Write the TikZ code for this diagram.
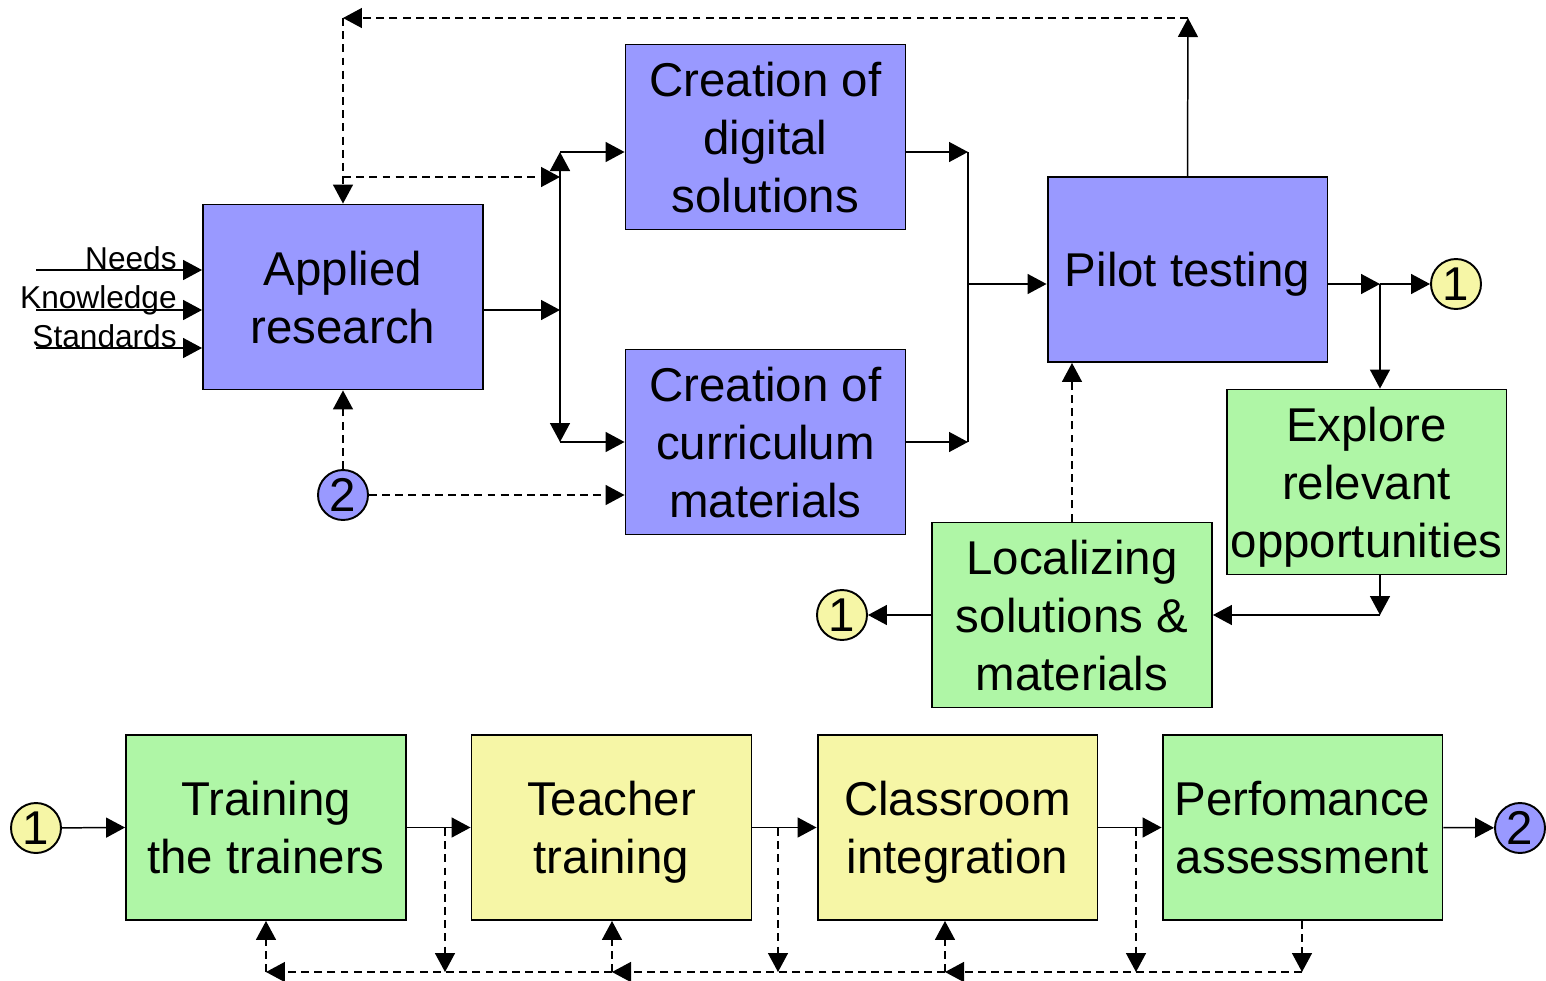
\documentclass[tikz,border=0pt]{standalone}
\usepackage{fontspec}
\setmainfont{Liberation Sans}
\usetikzlibrary{arrows.meta}
\usetikzlibrary{positioning}

\definecolor{boxblue}{HTML}{9999FF}
\definecolor{boxgreen}{HTML}{AFF6A6}
\definecolor{boxyellow}{HTML}{F6F6A6}

\tikzset{
  stage/.style={draw, line width=1.1pt, minimum width=5.6cm, minimum height=3.7cm,
    align=center, inner sep=0pt, text depth=0pt, font=\fontsize{27}{33}\selectfont},
  link/.style={line width=0.85pt, -{Triangle[length=3.8mm,width=4mm]}},
  back/.style={link, dash pattern=on 4.5pt off 3pt},
  plain/.style={line width=0.85pt},
  jump/.style={circle, draw, line width=1.1pt, minimum size=1.0cm, inner sep=0pt,
    font=\fontsize{27}{33}\selectfont},
  input/.style={anchor=base east, inner sep=0pt, font=\fontsize{18}{20}\selectfont},
}

\begin{document}
\begin{tikzpicture}[x=0.02cm, y=-0.02cm]
      \useasboundingbox (0, 0) rectangle (1546, 981);

      % boxes
      \node [stage, fill=boxblue] (ar) at (343, 297) {Applied\\research};
      \node [stage, fill=boxblue] (cd) at (765.5, 137) {Creation of\\digital\\solutions};
      \node [stage, fill=boxblue] (cc) at (765.5, 442) {Creation of\\curriculum\\materials};
      \node [stage, fill=boxblue] (pt) at (1187.5, 269.5) {Pilot testing};
      \node [stage, fill=boxgreen] (ex) at (1366.5, 482) {Explore\\relevant\\opportunities};
      \node [stage, fill=boxgreen] (lo) at (1072, 615) {Localizing\\solutions \&\\materials};
      \node [stage, fill=boxgreen] (t1) at (266, 827.5) {Training\\the trainers};
      \node [stage, fill=boxyellow] (t2) at (611.5, 827.5) {Teacher\\training};
      \node [stage, fill=boxyellow] (t3) at (957.5, 827.5) {Classroom\\integration};
      \node [stage, fill=boxgreen] (t4) at (1302.5, 827.5) {Perfomance\\assessment};

      % off-page connectors
      \node [jump, fill=boxyellow] (c1a) at (1456, 284) {1};
      \node [jump, fill=boxblue] (c2a) at (343, 495) {2};
      \node [jump, fill=boxyellow] (c1b) at (842, 615) {1};
      \node [jump, fill=boxyellow] (c1c) at (36, 828) {1};
      \node [jump, fill=boxblue] (c2b) at (1520, 828) {2};

      % inputs
      \coordinate (in1) at (36, 270);
      \coordinate (in2) at (36, 310);
      \coordinate (in3) at (36, 348);
      \draw [link] (in1) -- (in1 -| ar.west);
      \draw [link] (in2) -- (in2 -| ar.west);
      \draw [link] (in3) -- (in3 -| ar.west);
      \node [input] (lneeds) at (177, 269) {Needs};
      \node [input] (lknow) at (177, 308) {Knowledge};
      \node [input] (lstand) at (177, 347) {Standards};

      % research to creation
      \coordinate (jl) at (560, 310);
      \coordinate (jlt) at (560, 152);
      \coordinate (jlb) at (560, 442);
      \draw [link] (ar.east |- jl) -- (jl);
      \draw [link] (jl) -- (jlt);
      \draw [link] (jl) -- (jlb);
      \draw [link] (jlt) -- (cd.west |- jlt);
      \draw [link] (jlb) -- (cc.west |- jlb);

      % creation to pilot
      \coordinate (jr1) at (968, 152);
      \coordinate (jr2) at (968, 442);
      \coordinate (jr) at (968, 284);
      \draw [link] (cd.east |- jr1) -- (jr1);
      \draw [link] (cc.east |- jr2) -- (jr2);
      \draw [plain] (jr1) -- (jr2);
      \draw [link] (jr) -- (pt.west |- jr);

      % feedback over the top
      \coordinate (fbR) at (1188, 18);
      \coordinate (fbL) at (343, 18);
      \coordinate (fbM) at (343, 177);
      \draw [link] (pt.north) -- (fbR);
      \draw [back] (fbR) -- (fbL);
      \draw [back] (fbL) -- (ar.north);
      \draw [back] (fbM) -- (jl |- fbM);

      % from 2
      \draw [back] (c2a) -- (ar.south);
      \draw [back] (c2a) -- (cc.west |- c2a);

      % pilot to explore and localizing
      \coordinate (jp) at (1380, 284);
      \coordinate (je) at (1380, 615);
      \draw [link] (pt.east |- jp) -- (jp);
      \draw [link] (jp) -- (c1a);
      \draw [link] (jp) -- (jp |- ex.north);
      \draw [link] (jp |- ex.south) -- (je);
      \draw [link] (je) -- (lo.east);
      \draw [link] (lo.west) -- (c1b);
      \draw [back] (lo.north) -- (lo.north |- pt.south);

      % bottom chain
      \draw [link] (c1c) -- (t1.west);
      \draw [link] (t1.east) -- (t2.west);
      \draw [link] (t2.east) -- (t3.west);
      \draw [link] (t3.east) -- (t4.west);
      \draw [link] (t4.east) -- (c2b);

      % feedback along the bottom
      \coordinate (d1) at (445, 828);
      \coordinate (d2) at (778, 828);
      \coordinate (d3) at (1136, 828);
      \coordinate (b1) at (266, 972);
      \coordinate (b2) at (612, 972);
      \coordinate (b3) at (945, 972);
      \coordinate (b4) at (1302, 972);
      \draw [back] (d1) -- (d1 |- b1);
      \draw [back] (d2) -- (d2 |- b1);
      \draw [back] (d3) -- (d3 |- b1);
      \draw [back] (t4.south -| b4) -- (b4);
      \draw [back] (b4) -- (b3);
      \draw [back] (b3) -- (b2);
      \draw [back] (b2) -- (b1);
      \draw [back] (b1) -- (t1.south -| b1);
      \draw [back] (b2) -- (t2.south -| b2);
      \draw [back] (b3) -- (t3.south -| b3);
    \end{tikzpicture}
\end{document}
